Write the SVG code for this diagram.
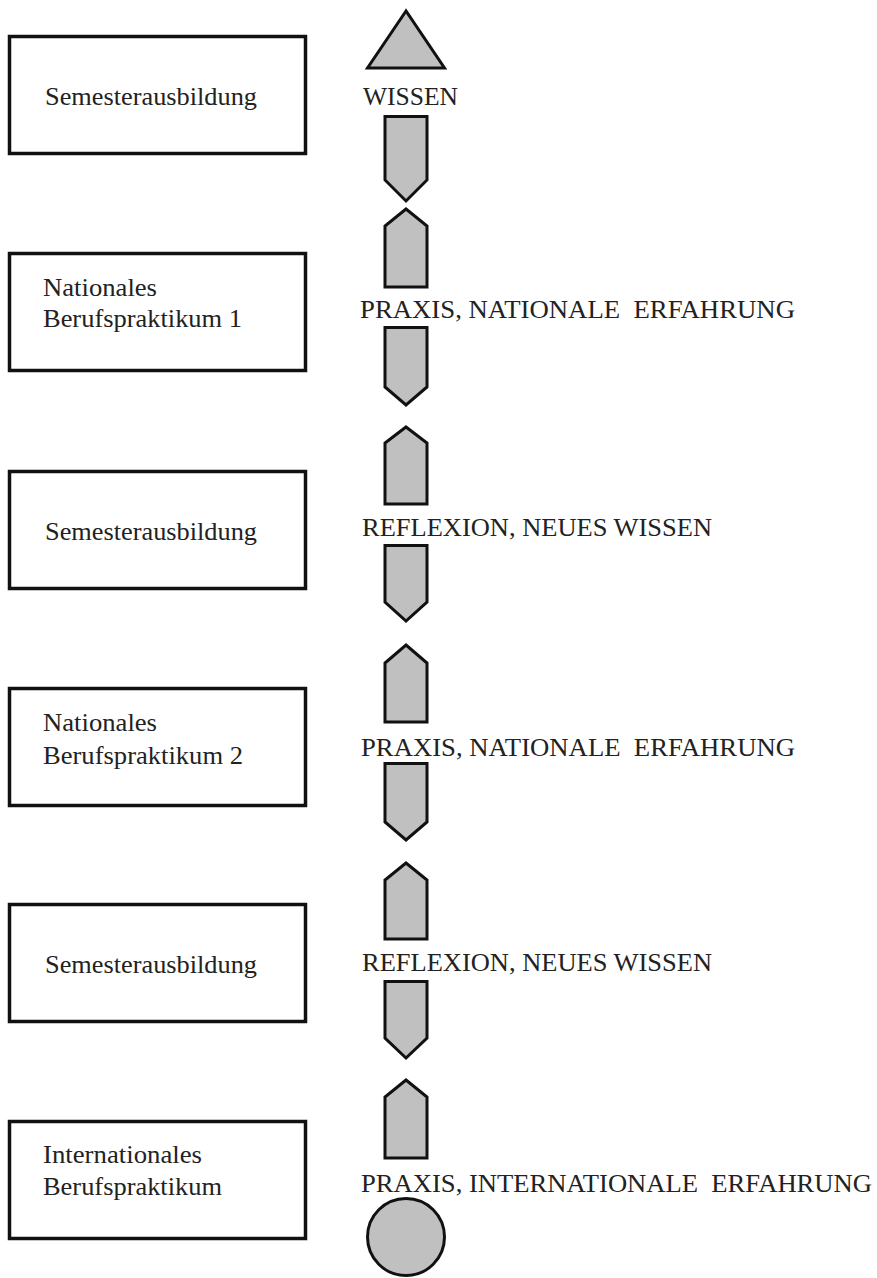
<svg xmlns="http://www.w3.org/2000/svg" width="877" height="1278" viewBox="0 0 877 1278">
<style>
.box{fill:#fff;stroke:#111;stroke-width:3.5}
.shape{fill:#c0c0c0;stroke:#111;stroke-width:3;stroke-linejoin:miter}
.t{font-family:"Liberation Serif","Times New Roman",serif;font-size:25px;fill:#222;white-space:pre}
</style>
<rect width="877" height="1278" fill="#fff"/>
<g id="box1"><rect class="box" x="9.5" y="36.5" width="296" height="117"/><text class="t" x="45" y="105" textLength="212" lengthAdjust="spacingAndGlyphs">Semesterausbildung</text></g>
<g id="box2"><rect class="box" x="9.5" y="253.5" width="296" height="117"/><text class="t" x="43" y="296" textLength="114" lengthAdjust="spacingAndGlyphs">Nationales</text><text class="t" x="43" y="327" textLength="199" lengthAdjust="spacingAndGlyphs">Berufspraktikum 1</text></g>
<g id="box3"><rect class="box" x="9.5" y="471.5" width="296" height="117"/><text class="t" x="45" y="540" textLength="212" lengthAdjust="spacingAndGlyphs">Semesterausbildung</text></g>
<g id="box4"><rect class="box" x="9.5" y="688.5" width="296" height="117"/><text class="t" x="43" y="731" textLength="114" lengthAdjust="spacingAndGlyphs">Nationales</text><text class="t" x="43" y="764" textLength="200" lengthAdjust="spacingAndGlyphs">Berufspraktikum 2</text></g>
<g id="box5"><rect class="box" x="9.5" y="904.5" width="296" height="117"/><text class="t" x="45" y="973" textLength="212" lengthAdjust="spacingAndGlyphs">Semesterausbildung</text></g>
<g id="box6"><rect class="box" x="9.5" y="1121.5" width="296" height="117"/><text class="t" x="43" y="1163" textLength="159" lengthAdjust="spacingAndGlyphs">Internationales</text><text class="t" x="43" y="1195" textLength="179" lengthAdjust="spacingAndGlyphs">Berufspraktikum</text></g>
<g id="triangle"><path class="shape" d="M406,11 L367.5,68 L444.5,68 Z"/></g>
<g id="circle"><circle class="shape" cx="406" cy="1237" r="38.5"/></g>
<g id="label1"><text class="t" x="363" y="105" textLength="95" lengthAdjust="spacingAndGlyphs">WISSEN</text></g>
<g id="label2"><text class="t" x="360" y="318" textLength="435" lengthAdjust="spacingAndGlyphs" xml:space="preserve">PRAXIS, NATIONALE  ERFAHRUNG</text></g>
<g id="label3"><text class="t" x="362" y="536" textLength="350" lengthAdjust="spacingAndGlyphs">REFLEXION, NEUES WISSEN</text></g>
<g id="label4"><text class="t" x="361" y="756" textLength="434" lengthAdjust="spacingAndGlyphs" xml:space="preserve">PRAXIS, NATIONALE  ERFAHRUNG</text></g>
<g id="label5"><text class="t" x="362" y="971" textLength="350" lengthAdjust="spacingAndGlyphs">REFLEXION, NEUES WISSEN</text></g>
<g id="label6"><text class="t" x="361" y="1192" textLength="511" lengthAdjust="spacingAndGlyphs" xml:space="preserve">PRAXIS, INTERNATIONALE  ERFAHRUNG</text></g>
<g id="connectors">
<path class="shape" d="M385,116.5 H427 V180 L406,201 L385,180 Z"/>
<path class="shape" d="M406,209 L427,226 V287 H385 V226 Z"/>
<path class="shape" d="M385,327.5 H427 V387 L406,405 L385,387 Z"/>
<path class="shape" d="M406,427 L427,443 V504 H385 V443 Z"/>
<path class="shape" d="M385,545.5 H427 V602 L406,621 L385,602 Z"/>
<path class="shape" d="M406,645 L427,663 V722 H385 V663 Z"/>
<path class="shape" d="M385,763.5 H427 V822 L406,840 L385,822 Z"/>
<path class="shape" d="M406,863 L427,880 V939 H385 V880 Z"/>
<path class="shape" d="M385,981.5 H427 V1038 L406,1058 L385,1038 Z"/>
<path class="shape" d="M406,1080 L427,1097 V1158 H385 V1097 Z"/>
</g>
</svg>
